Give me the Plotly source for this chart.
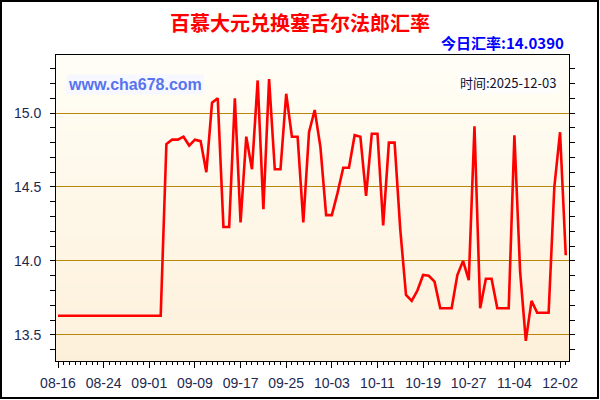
import plotly.graph_objects as go

# ---- data ----
title_text = "百慕大元兑换塞舌尔法郎汇率"
today_rate_text = "今日汇率:14.0390"
site_text = "www.cha678.com"
time_text = "时间:2025-12-03"

tick_labels = ["08-16", "08-24", "09-01", "09-09", "09-17", "09-25",
               "10-03", "10-11", "10-19", "10-27", "11-04", "12-02"]

rates = [13.63] * 19 + [
    14.79, 14.82, 14.82, 14.84, 14.78, 14.82, 14.81, 14.60, 15.07, 15.10,
    14.23, 14.23, 15.10, 14.26, 14.84, 14.62, 15.22, 14.35, 15.23, 14.62,
    14.62, 15.13, 14.84, 14.84, 14.26, 14.87, 15.02, 14.77, 14.31, 14.31,
    14.46, 14.63, 14.63, 14.85, 14.84, 14.44, 14.86, 14.86, 14.24, 14.80,
    14.80, 14.21, 13.77, 13.73, 13.80, 13.905, 13.90, 13.86, 13.68, 13.68,
    13.68, 13.905, 14.00, 13.87, 14.91, 13.68, 13.88, 13.88, 13.68, 13.68,
    13.68, 14.85, 13.93, 13.46, 13.73, 13.65, 13.65, 13.65, 14.50, 14.87,
    14.039,
]
x_idx = list(range(len(rates)))
tick_idx = list(range(0, 8 * len(tick_labels), 8))
y_major = [13.5, 14.0, 14.5, 15.0]

# ---- figure ----
fig = go.Figure()
fig.add_trace(go.Scatter(x=x_idx, y=rates, mode="lines",
                         line=dict(color="#ff0000", width=2.6),
                         hoverinfo="skip", showlegend=False))

# gradient background for the plot area
shapes = []
n_bands = 40
top_rgb = (255, 254, 246)
bot_rgb = (253, 240, 218)
for k in range(n_bands):
    t = (k + 0.5) / n_bands
    r = round(bot_rgb[0] + (top_rgb[0] - bot_rgb[0]) * t)
    g = round(bot_rgb[1] + (top_rgb[1] - bot_rgb[1]) * t)
    b = round(bot_rgb[2] + (top_rgb[2] - bot_rgb[2]) * t)
    shapes.append(dict(type="rect", xref="paper", yref="paper",
                       x0=0, x1=1, y0=k / n_bands, y1=(k + 1) / n_bands + 0.002,
                       fillcolor=f"rgb({r},{g},{b})", line=dict(width=0),
                       layer="below"))

# outer frame of the whole image
L, R, T, B = 56, 31, 55, 39
PW, PH = 600 - L - R, 400 - T - B
def px_to_paper_x(px):
    return (px - L) / PW
def py_to_paper_y(py):
    return (400 - B - py) / PH
shapes.append(dict(type="rect", xref="paper", yref="paper",
                   x0=px_to_paper_x(1), x1=px_to_paper_x(598),
                   y0=py_to_paper_y(398), y1=py_to_paper_y(1),
                   line=dict(color="#000000", width=2), fillcolor="rgba(0,0,0,0)",
                   layer="above"))

tick_font = dict(family="Liberation Sans, Arial, sans-serif", size=14, color="#1c2850")

fig.update_layout(
    width=600, height=400,
    margin=dict(l=L, r=R, t=T, b=B, autoexpand=False),
    paper_bgcolor="#ffffff",
    plot_bgcolor="rgba(0,0,0,0)",
    shapes=shapes,
    xaxis=dict(
        range=[-0.35, 89.57], automargin=False,
        tickmode="array", tickvals=tick_idx, ticktext=tick_labels,
        ticks="outside", ticklen=6, tickcolor="#000000", tickwidth=1,
        minor=dict(tickmode="linear", tick0=0, dtick=1, ticklen=3,
                   ticks="outside", tickcolor="#000000", showgrid=False),
        showline=True, linecolor="#000000", linewidth=1, mirror=True,
        showgrid=False, zeroline=False, tickfont=tick_font,
        ticklabelstandoff=3, fixedrange=True,
    ),
    yaxis=dict(
        range=[13.324, 15.392], automargin=False,
        tickmode="array", tickvals=y_major,
        ticktext=[f"{v:.1f}" for v in y_major],
        ticks="outside", ticklen=5, tickcolor="#000000", tickwidth=1,
        minor=dict(tickmode="linear", tick0=13.5, dtick=0.1, ticklen=5,
                   ticks="outside", tickcolor="#000000", showgrid=False),
        showline=True, linecolor="#000000", linewidth=1, mirror="ticks",
        showgrid=True, gridcolor="#b8860b", gridwidth=1,
        zeroline=False, tickfont=tick_font, ticklabelstandoff=6,
        fixedrange=True,
    ),
    annotations=[
        dict(text=f"<b>{title_text}</b>", xref="paper", yref="paper",
             x=px_to_paper_x(300), y=py_to_paper_y(23), xanchor="center", yanchor="middle",
             showarrow=False,
             font=dict(family="Noto Sans CJK SC, sans-serif", size=20, color="#ff0000")),
        dict(text=f"<b>{today_rate_text}</b>", xref="paper", yref="paper",
             x=px_to_paper_x(566), y=py_to_paper_y(43), xanchor="right", yanchor="middle",
             showarrow=False,
             font=dict(family="Noto Sans CJK SC, sans-serif", size=15, color="#0000ff")),
        dict(text=f"<b>{site_text}</b>", xref="paper", yref="paper",
             x=px_to_paper_x(66), y=py_to_paper_y(84), xanchor="left", yanchor="middle",
             showarrow=False, bgcolor="#f7f8ff", borderpad=1,
             font=dict(family="Liberation Sans, Arial, sans-serif", size=16, color="#5873ee")),
        dict(text=time_text, xref="paper", yref="paper",
             x=px_to_paper_x(558), y=py_to_paper_y(82), xanchor="right", yanchor="middle",
             showarrow=False, bgcolor="#fdfdfb", borderpad=1,
             font=dict(family="Noto Sans CJK SC, sans-serif", size=13, color="#101030")),
    ],
)

fig.write_html("out.html", config={"displayModeBar": False},
               post_script="document.body.style.margin='0';")
